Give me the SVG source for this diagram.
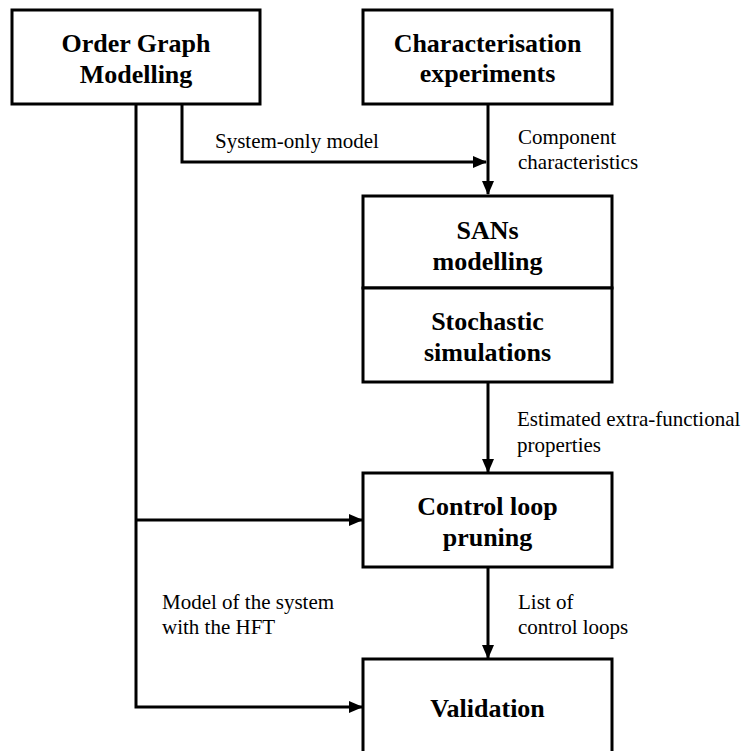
<svg xmlns="http://www.w3.org/2000/svg" width="745" height="751" viewBox="0 0 745 751">
<style>
.box{fill:#fff;stroke:#000;stroke-width:3}
.t{font-family:'Liberation Serif','Times New Roman',Times,serif;font-weight:700;font-size:26px;text-anchor:middle;fill:#000}
.l{font-family:'Liberation Serif','Times New Roman',Times,serif;font-size:21px;fill:#000}
.c{fill:none;stroke:#000;stroke-width:3}
</style>
<defs>
<marker id="ah" markerWidth="14" markerHeight="12" refX="13" refY="6" orient="auto" markerUnits="userSpaceOnUse">
<path d="M0,0 L14,6 L0,12 Z" fill="#000"/>
</marker>
</defs>
<rect width="745" height="751" fill="#fff"/>
<g id="connectors">
<path class="c" d="M182,104 V162 H486" marker-end="url(#ah)"/>
<path class="c" d="M488,104 V194" marker-end="url(#ah)"/>
<path class="c" d="M488,382 V472" marker-end="url(#ah)"/>
<path class="c" d="M488,567 V658" marker-end="url(#ah)"/>
<path class="c" d="M136,104 V707 H362" marker-end="url(#ah)"/>
<path class="c" d="M136,520 H362" marker-end="url(#ah)"/>
<text class="l" x="215" y="148">System-only model</text>
<text class="l" x="518" y="144">Component</text>
<text class="l" x="518" y="169">characteristics</text>
<text class="l" x="517" y="426">Estimated extra-functional</text>
<text class="l" x="517" y="452">properties</text>
<text class="l" x="162" y="609">Model of the system</text>
<text class="l" x="162" y="634">with the HFT</text>
<text class="l" x="518" y="609">List of</text>
<text class="l" x="518" y="634">control loops</text>
</g>
<g id="order-graph">
<rect class="box" x="12" y="10" width="248" height="94"/>
<text class="t" x="136" y="52">Order Graph</text>
<text class="t" x="136" y="83">Modelling</text>
</g>
<g id="characterisation">
<rect class="box" x="363" y="10" width="249" height="94"/>
<text class="t" x="487.5" y="52">Characterisation</text>
<text class="t" x="487.5" y="82">experiments</text>
</g>
<g id="sans">
<rect class="box" x="363" y="196" width="249" height="92"/>
<text class="t" x="487.5" y="239">SANs</text>
<text class="t" x="487.5" y="270">modelling</text>
</g>
<g id="stochastic">
<rect class="box" x="363" y="288" width="249" height="94"/>
<text class="t" x="487.5" y="330">Stochastic</text>
<text class="t" x="487.5" y="361">simulations</text>
</g>
<g id="control-loop">
<rect class="box" x="363" y="473" width="249" height="94"/>
<text class="t" x="487.5" y="515">Control loop</text>
<text class="t" x="487.5" y="546">pruning</text>
</g>
<g id="validation">
<rect class="box" x="363" y="659" width="249" height="100"/>
<text class="t" x="487.5" y="717">Validation</text>
</g>
</svg>
